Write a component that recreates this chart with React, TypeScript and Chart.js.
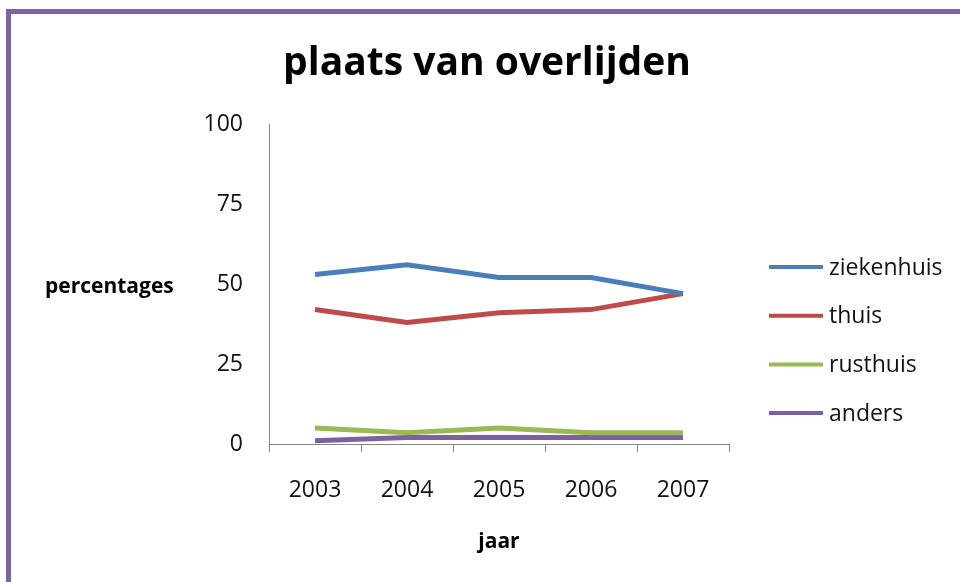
import React, { useEffect, useRef } from "react";
import { Chart, registerables } from "chart.js";

Chart.register(...registerables);

const years = ["2003", "2004", "2005", "2006", "2007"];
const ziekenhuis = [53, 56, 52, 52, 47];
const thuis = [42, 38, 41, 42, 47];
const rusthuis = [5, 3.5, 5, 3.5, 3.5];
const anders = [1, 2, 2, 2, 2];
const seriesNames = ["ziekenhuis", "thuis", "rusthuis", "anders"];
const seriesColors = ["#4A7EBB", "#BE4B48", "#98B954", "#7D60A0"];
const yTickValues = [0, 25, 50, 75, 100];
const chartTitle = "plaats van overlijden";
const yTitle = "percentages";
const xTitle = "jaar";

const FONT = "'Open Sans', 'Noto Sans', sans-serif";

const textPlugin = {
  id: "customText",
  afterDraw(chart: any) {
    const ctx = chart.ctx;
    ctx.save();
    ctx.fillStyle = "#000";
    ctx.textBaseline = "middle";
    ctx.textAlign = "center";
    ctx.font = `bold 39px ${FONT}`;
    ctx.fillText(chartTitle, 487, 64);
    ctx.font = `bold 21px ${FONT}`;
    ctx.textAlign = "left";
    ctx.fillText(yTitle, 45, 287);
    ctx.textAlign = "center";
    ctx.fillText(xTitle, 499, 542);
    // legend
    ctx.font = `23px ${FONT}`;
    ctx.textAlign = "left";
    chart.data.datasets.forEach((ds: any, i: number) => {
      const y = 267 + i * 48.7;
      ctx.strokeStyle = ds.borderColor;
      ctx.lineWidth = 4;
      ctx.lineCap = "butt";
      ctx.beginPath();
      ctx.moveTo(769, y);
      ctx.lineTo(823, y);
      ctx.stroke();
      ctx.fillStyle = "#111";
      ctx.fillText(ds.label, 829, y + 1);
    });
    ctx.restore();
  },
};

export default function App() {
  const ref = useRef<HTMLCanvasElement | null>(null);
  useEffect(() => {
    if (!ref.current) return;
    const seriesData = [ziekenhuis, thuis, rusthuis, anders];
    const chart = new Chart(ref.current, {
      type: "line",
      data: {
        labels: years,
        datasets: seriesData.map((d, i) => ({
          label: seriesNames[i],
          data: d,
          borderColor: seriesColors[i],
          backgroundColor: seriesColors[i],
          borderWidth: 5,
          pointRadius: 0,
          tension: 0,
          fill: false,
        })),
      },
      options: {
        responsive: false,
        animation: false,
        layout: { padding: { top: 124, right: 231, bottom: 0, left: 0 } },
        plugins: {
          legend: { display: false },
          title: { display: false },
          tooltip: { enabled: false },
        },
        scales: {
          x: {
            type: "category",
            offset: true,
            grid: {
              offset: true,
              drawOnChartArea: false,
              tickLength: 8,
              color: "#868686",
            },
            border: { display: true, color: "#868686", width: 1 },
            ticks: {
              font: { family: FONT, size: 23 },
              color: "#111",
              padding: 25,
            },
            afterFit: (s: any) => {
              s.height = 138;
            },
          },
          y: {
            min: 0,
            max: 100,
            afterBuildTicks: (s: any) => {
              s.ticks = yTickValues.map((v) => ({ value: v }));
            },
            grid: { display: false, drawTicks: false, tickLength: 0 },
            border: { display: true, color: "#868686", width: 1 },
            ticks: {
              font: { family: FONT, size: 23 },
              color: "#111",
              padding: 26,
            },
            afterFit: (s: any) => {
              s.width = 269;
            },
          },
        },
      },
      plugins: [textPlugin],
    });
    return () => chart.destroy();
  }, []);
  return (
    <div
      style={{
        position: "fixed",
        left: 0,
        top: 0,
        width: 960,
        height: 582,
        overflow: "hidden",
        background: "#fff",
      }}
    >
      <canvas ref={ref} width={960} height={582} style={{ position: "absolute", left: 0, top: 0 }} />
      <div
        style={{
          position: "absolute",
          left: 6,
          top: 9,
          width: 1000,
          height: 700,
          border: "5px solid #8064A2",
          boxSizing: "border-box",
          pointerEvents: "none",
        }}
      />
    </div>
  );
}
